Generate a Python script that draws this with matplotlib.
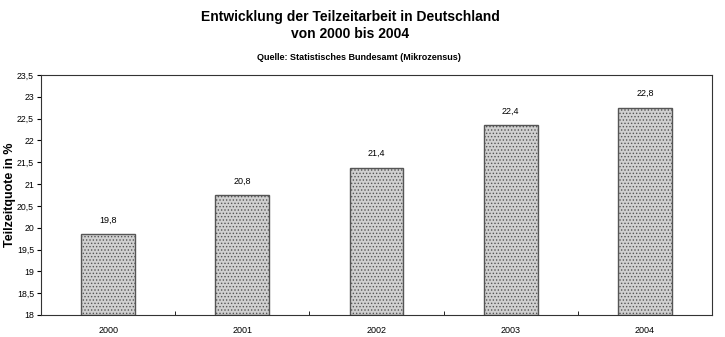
import numpy as np
import matplotlib.pyplot as plt
from matplotlib.ticker import FuncFormatter

plt.rcParams['font.family'] = ['Liberation Sans', 'DejaVu Sans']
plt.rcParams['hatch.color'] = '#8a8a8a'
plt.rcParams['hatch.linewidth'] = 0.6

years = ['2000', '2001', '2002', '2003', '2004']
quote = [19.8, 20.8, 21.4, 22.4, 22.8]
bar_tops = [19.85, 20.75, 21.38, 22.35, 22.75]  # drawn heights as seen in the scan

narrow = ['Liberation Sans Narrow', 'Liberation Sans', 'DejaVu Sans']

fig = plt.figure(figsize=(7.25, 3.37), dpi=100)
ax = fig.add_axes([0.0566, 0.0653, 0.9255, 0.712])

x = np.arange(len(years))
ax.bar(x, np.array(bar_tops) - 18, bottom=18, width=0.4,
       facecolor='#d0d0d0', edgecolor='#555555', linewidth=1.0, hatch='.....')

for xi, top, v in zip(x, bar_tops, quote):
    ax.text(xi, top + 0.22, f'{v:.1f}'.replace('.', ','), ha='center', va='bottom', fontsize=6.5)

ax.set_xlim(-0.5, 4.5)
ax.set_ylim(18, 23.5)
ax.set_yticks(np.arange(18, 23.51, 0.5))
ax.yaxis.set_major_formatter(FuncFormatter(lambda v, p: f'{v:g}'.replace('.', ',')))
ax.set_xticks(x)
ax.set_xticklabels(years)
ax.set_xticks(np.arange(0.5, 4.5, 1), minor=True)
ax.tick_params(axis='x', which='major', length=0, labelsize=6.5, pad=8)
ax.tick_params(axis='x', which='minor', length=3, direction='in')
ax.tick_params(axis='y', length=3, direction='out', labelsize=6.3, pad=2)

for s in ax.spines.values():
    s.set_linewidth(0.8)
    s.set_color('#333333')

fig.text(10 / 725, 1 - 195 / 337, 'Teilzeitquote in %', rotation=90,
         ha='center', va='center', fontsize=9, fontweight='bold')

fig.text(0.483, 0.925, 'Entwicklung der Teilzeitarbeit in Deutschland\nvon 2000 bis 2004',
         ha='center', va='center', fontsize=10, fontweight='bold', linespacing=1.3,
         family=narrow)
fig.text(0.495, 0.83, 'Quelle: Statistisches Bundesamt (Mikrozensus)',
         ha='center', va='center', fontsize=6.5, fontweight='bold', family=narrow)

fig.savefig('out.png', dpi=100)
